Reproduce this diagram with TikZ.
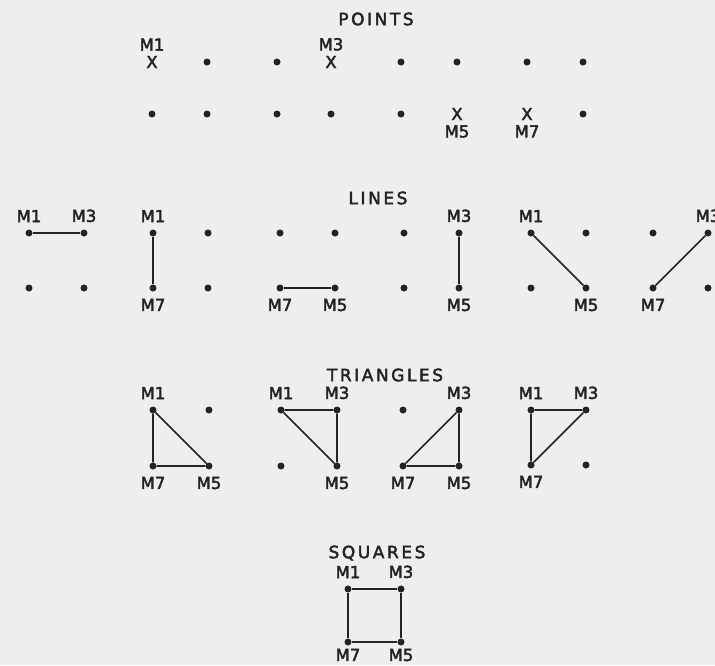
\documentclass[tikz,border=0pt]{standalone}
\usepackage{fontspec}
\setmainfont[FakeBold=2.5]{DejaVu Sans}
\newfontfamily\headfont[LetterSpace=15,FakeBold=2.5]{DejaVu Sans}
\usetikzlibrary{positioning}

\definecolor{paper}{RGB}{238,238,238}
\definecolor{ink}{RGB}{35,35,35}

\tikzset{
  spot/.style={circle,fill=ink,inner sep=0pt,minimum size=7pt},
  ptx/.style={inner sep=0pt,text=ink,font=\fontsize{16.5}{16.5}\selectfont},
  lab/.style={inner sep=0pt,text=ink,font=\fontsize{16.5}{16.5}\selectfont},
  heading/.style={inner sep=0pt,text=ink,font=\fontsize{17}{17}\headfont},
  seg/.style={draw=ink,line width=1.7pt}
}

% four dots of one square: #1-1 top left, #1-3 top right, #1-5 bottom right, #1-7 bottom left
\newcommand{\quartet}[4]{%
  \node[spot] (#1-1) at (#2,#3) {};
  \node[spot] (#1-3) at (#2+#4,#3) {};
  \node[spot] (#1-5) at (#2+#4,#3+#4) {};
  \node[spot] (#1-7) at (#2,#3+#4) {};
}

\begin{document}
\begin{tikzpicture}[x=1pt,y=-1pt]
  \fill[paper] (0,0) rectangle (715,665);
  \useasboundingbox (0,0) rectangle (715,665);

  % points
  \node[heading] (pts) at (376,19) {POINTS};
  \foreach \x/\n in {207/2,277/3,401/5,457/6,527/7,583/8}
    \node[spot] (p-a\n) at (\x,62) {};
  \foreach \x/\n in {152/1,207/2,277/3,331/4,401/5,583/8}
    \node[spot] (p-b\n) at (\x,114) {};
  \node[ptx] (p-a1) at (152,62) {X};
  \node[ptx] (p-a4) at (331,62) {X};
  \node[ptx] (p-b6) at (457,114) {X};
  \node[ptx] (p-b7) at (527,114) {X};
  \node[lab,above=5pt of p-a1] (p-m1) {M1};
  \node[lab,above=5pt of p-a4] (p-m3) {M3};
  \node[lab,below=5pt of p-b6] (p-m5) {M5};
  \node[lab,below=5pt of p-b7] (p-m7) {M7};

  % lines
  \node[heading] (lns) at (378,198) {LINES};
  \quartet{l1}{29}{233}{55}
  \quartet{l2}{153}{233}{55}
  \quartet{l3}{280}{233}{55}
  \quartet{l4}{404}{233}{55}
  \quartet{l5}{531}{233}{55}
  \quartet{l6}{653}{233}{55}
  \draw[seg] (l1-1) -- (l1-3);
  \draw[seg] (l2-1) -- (l2-7);
  \draw[seg] (l3-7) -- (l3-5);
  \draw[seg] (l4-3) -- (l4-5);
  \draw[seg] (l5-1) -- (l5-5);
  \draw[seg] (l6-7) -- (l6-3);
  \node[lab,above=7pt of l1-1] (l1-m1) {M1};
  \node[lab,above=7pt of l1-3] (l1-m3) {M3};
  \node[lab,above=7pt of l2-1] (l2-m1) {M1};
  \node[lab,below=7pt of l2-7] (l2-m7) {M7};
  \node[lab,below=7pt of l3-7] (l3-m7) {M7};
  \node[lab,below=7pt of l3-5] (l3-m5) {M5};
  \node[lab,above=7pt of l4-3] (l4-m3) {M3};
  \node[lab,below=7pt of l4-5] (l4-m5) {M5};
  \node[lab,above=7pt of l5-1] (l5-m1) {M1};
  \node[lab,below=7pt of l5-5] (l5-m5) {M5};
  \node[lab,below=7pt of l6-7] (l6-m7) {M7};
  \node[lab,above=7pt of l6-3] (l6-m3) {M3};

  % triangles
  \node[heading] (tri) at (385,375) {TRIANGLES};
  \quartet{t1}{153}{410}{56}
  \quartet{t2}{281}{410}{56}
  \quartet{t3}{403}{410}{56}
  \quartet{t4}{531}{410}{55}
  \draw[seg] (t1-1) -- (t1-7) -- (t1-5) -- (t1-1);
  \draw[seg] (t2-1) -- (t2-3) -- (t2-5) -- (t2-1);
  \draw[seg] (t3-3) -- (t3-5) -- (t3-7) -- (t3-3);
  \draw[seg] (t4-1) -- (t4-3) -- (t4-7) -- (t4-1);
  \node[lab,above=7pt of t1-1] (t1-m1) {M1};
  \node[lab,below=7pt of t1-7] (t1-m7) {M7};
  \node[lab,below=7pt of t1-5] (t1-m5) {M5};
  \node[lab,above=7pt of t2-1] (t2-m1) {M1};
  \node[lab,above=7pt of t2-3] (t2-m3) {M3};
  \node[lab,below=7pt of t2-5] (t2-m5) {M5};
  \node[lab,above=7pt of t3-3] (t3-m3) {M3};
  \node[lab,below=7pt of t3-7] (t3-m7) {M7};
  \node[lab,below=7pt of t3-5] (t3-m5) {M5};
  \node[lab,above=7pt of t4-1] (t4-m1) {M1};
  \node[lab,above=7pt of t4-3] (t4-m3) {M3};
  \node[lab,below=7pt of t4-7] (t4-m7) {M7};

  % squares
  \node[heading] (sqr) at (377,553) {SQUARES};
  \quartet{s1}{348}{589}{53}
  \draw[seg] (s1-1) -- (s1-3) -- (s1-5) -- (s1-7) -- (s1-1);
  \node[lab,above=7pt of s1-1] (s1-m1) {M1};
  \node[lab,above=7pt of s1-3] (s1-m3) {M3};
  \node[lab,below=3pt of s1-7] (s1-m7) {M7};
  \node[lab,below=3pt of s1-5] (s1-m5) {M5};
\end{tikzpicture}
\end{document}
